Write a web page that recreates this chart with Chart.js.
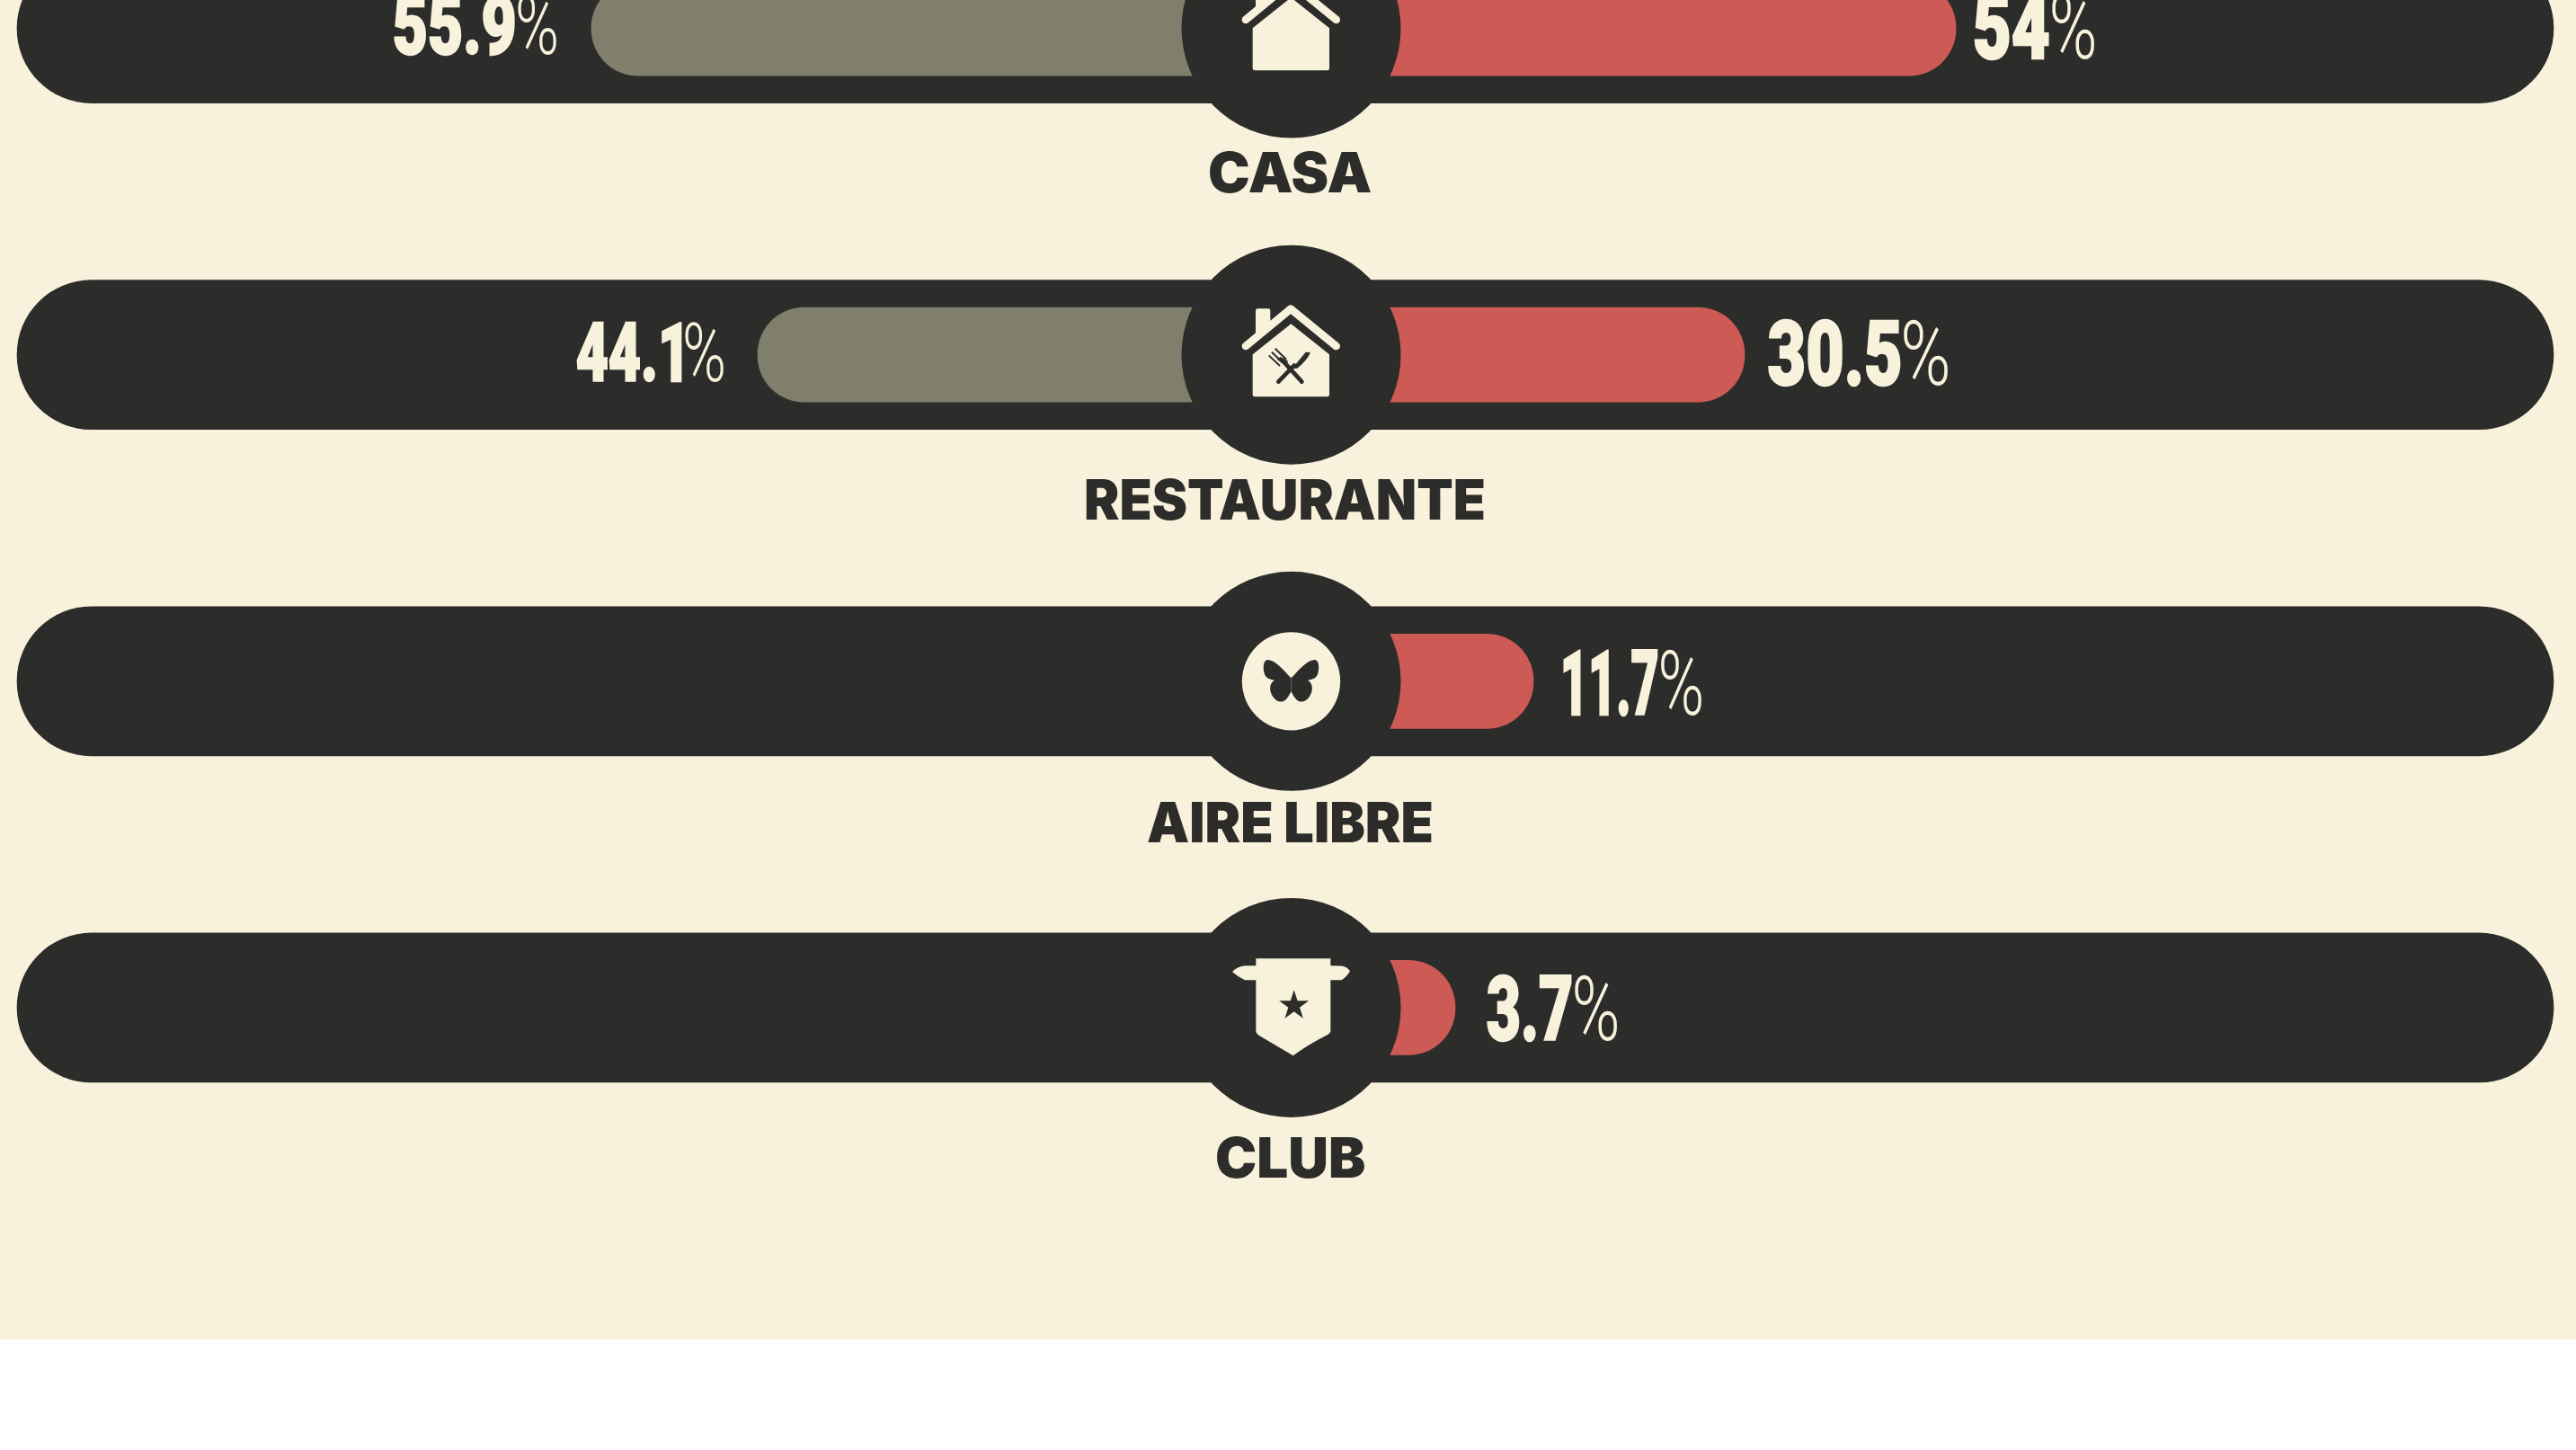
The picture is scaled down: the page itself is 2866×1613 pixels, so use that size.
<!DOCTYPE html>
<html lang="es"><head><meta charset="utf-8">
<style>
html,body{margin:0;padding:0;background:#fff;overflow:hidden}
#page{position:absolute;left:0;top:0;width:2866px;height:1490px;background:#F8F2DC;overflow:hidden}
#wrap{position:absolute;left:0;top:-150px;width:2866px;height:1640px}
</style>
<script src="https://cdn.jsdelivr.net/npm/chart.js@4"></script>
</head><body>
<div id="page"><div id="wrap"><canvas id="c" width="2866" height="1640"></canvas></div></div>
<script>
// Categories and printed percentages, as shown in the picture
const categories = ['CASA','RESTAURANTE','AIRE LIBRE','CLUB'];
const leftLabels  = ['55.9','44.1',null,null];
const rightLabels = ['54','30.5','11.7','3.7'];
// Bar extents read off the picture on the x axis. The drawn lengths in the
// original are not strictly proportional to the printed percentages.
const leftExtent  = [-77.85,-59.35,null,null];
const rightExtent = [73.95,50.45,26.95,18.25];
const trackStart = -141.75;
const trackEnd = 140.45;
const hubPosition = 0;

const CREAM='#F8F2DC', DARK='#2C2C2A', OLIVE='#807F6C', RED='#CD5A55';

const icons = {
  house(ctx,fork){
    ctx.fillStyle=CREAM; ctx.strokeStyle=CREAM; ctx.lineCap='round'; ctx.lineJoin='round';
    ctx.beginPath();ctx.moveTo(281,404);ctx.lineTo(409,302);ctx.lineTo(537,404);ctx.lineTo(537,538);ctx.quadraticCurveTo(537,545,530,545);ctx.lineTo(288,545);ctx.quadraticCurveTo(281,545,281,538);ctx.closePath();ctx.fill();
    ctx.beginPath();ctx.moveTo(291,335);ctx.lineTo(291,258);ctx.quadraticCurveTo(291,251,298,251);ctx.lineTo(333,251);ctx.quadraticCurveTo(340,251,340,258);ctx.lineTo(340,300);ctx.closePath();ctx.fill();
    ctx.lineWidth=26;ctx.beginPath();ctx.moveTo(258,376);ctx.lineTo(408,252);ctx.lineTo(560,376);ctx.stroke();
    if(!fork)return;
    ctx.strokeStyle=DARK;ctx.fillStyle=DARK;
    ctx.lineWidth=14;ctx.beginPath();ctx.moveTo(367,495);ctx.lineTo(420,440);ctx.stroke();
    ctx.beginPath();ctx.moveTo(412,452);ctx.lineTo(458,396);ctx.lineTo(474,397);ctx.quadraticCurveTo(462,425,430,450);ctx.closePath();ctx.fill();
    ctx.beginPath();ctx.moveTo(445,495);ctx.lineTo(388,432);ctx.stroke();
    ctx.lineWidth=6;ctx.lineCap='butt';
    [[335,407,372,442],[345,396,382,432],[356,384,393,420]].forEach(a=>{ctx.beginPath();ctx.moveTo(a[0],a[1]);ctx.lineTo(a[2],a[3]);ctx.stroke();});
    ctx.beginPath();ctx.moveTo(362,420);ctx.lineTo(374,412);ctx.lineTo(398,425);ctx.lineTo(396,445);ctx.closePath();ctx.fill();
  },
  butterfly(ctx){
    ctx.fillStyle=CREAM;ctx.beginPath();ctx.arc(409.5,405,164,0,Math.PI*2);ctx.fill();
    ctx.fillStyle=DARK;
    [1,-1].forEach(s=>{
      ctx.save();ctx.translate(409.5,405);ctx.scale(s,1);
      ctx.beginPath();ctx.moveTo(0,-11);ctx.bezierCurveTo(22,-32,48,-68,75,-71);ctx.bezierCurveTo(95,-75,95,-40,88,-22);ctx.bezierCurveTo(82,-8,68,-6,55,-3);ctx.bezierCurveTo(72,5,75,30,62,50);ctx.bezierCurveTo(50,70,28,75,15,58);ctx.bezierCurveTo(8,50,5,42,0,34);ctx.closePath();ctx.fill();
      ctx.restore();
    });
  },
  toque(ctx){
    ctx.translate(0,-18);
    ctx.fillStyle=CREAM;
    ctx.beginPath();ctx.moveTo(292,259);ctx.lineTo(541,259);ctx.lineTo(541,283);ctx.lineTo(578,284);ctx.quadraticCurveTo(598,288,606,301);ctx.quadraticCurveTo(597,318,578,331);ctx.lineTo(541,331);ctx.lineTo(541,503);ctx.quadraticCurveTo(538,510,530,514);ctx.quadraticCurveTo(465,547,416,583);ctx.lineTo(303,516);ctx.quadraticCurveTo(293,510,292,503);ctx.lineTo(292,331);ctx.lineTo(255,331);ctx.quadraticCurveTo(234,322,213,303);ctx.quadraticCurveTo(228,286,255,283);ctx.lineTo(292,283);ctx.closePath();ctx.fill();
    ctx.fillStyle=DARK;ctx.beginPath();
    for(let i=0;i<10;i++){const r=i%2?20:52,a=-Math.PI/2+i*Math.PI/5;const x=419+r*Math.cos(a),y=416+r*Math.sin(a);i?ctx.lineTo(x,y):ctx.moveTo(x,y);}
    ctx.closePath();ctx.fill();
  }
};

const labelStyle = {left:[1346,1208,1277,1354],width:[179,443,316,164],baseline:[182,183,179,189]};
const valueStyle = {
  left:{gap:[39,38],dy:[-3.5,-2.5],digits:[133,116],pct:[43,43],size:91},
  right:{gap:[21,27,34,36],dy:[-2,-3,1,0],digits:[82,146,104,93],pct:[47,49,45,47],size:101}
};

// Draw text so that its ink spans exactly `w` pixels from `x`; `fat` thickens the strokes.
function fitText(ctx,txt,x,base,w,fat){
  const m=ctx.measureText(txt);
  const ink=m.actualBoundingBoxLeft+m.actualBoundingBoxRight;
  const k=w/ink;
  ctx.save();ctx.translate(x,base);ctx.scale(k,1);ctx.textAlign='left';
  ctx.fillText(txt,m.actualBoundingBoxLeft,0);
  if(fat){ctx.strokeStyle=ctx.fillStyle;ctx.lineWidth=fat;ctx.lineJoin='miter';ctx.strokeText(txt,m.actualBoundingBoxLeft,0);}
  ctx.restore();
}

const decor = {
  id:'decor',
  afterDatasetsDraw(chart){
    const {ctx,scales:{x,y}}=chart;
    const cx=x.getPixelForValue(hubPosition);
    categories.forEach((cat,i)=>{
      const cy=y.getPixelForValue(i);
      ctx.save();ctx.translate(cx,cy);ctx.scale(1/3,1/3);ctx.translate(-409.5,-405);
      if(i===0)icons.house(ctx,false);
      if(i===1)icons.house(ctx,true);
      if(i===2)icons.butterfly(ctx);
      if(i===3)icons.toque(ctx);
      ctx.restore();
      // category label
      ctx.save();
      ctx.font='900 62px Inter';ctx.fillStyle=DARK;ctx.textBaseline='alphabetic';
      fitText(ctx,cat,labelStyle.left[i],cy+labelStyle.baseline[i],labelStyle.width[i]);
      ctx.restore();
      // value labels
      const L=valueStyle.left,R=valueStyle.right;
      if(leftLabels[i])drawValue(ctx,leftLabels[i],x.getPixelForValue(leftExtent[i])-L.gap[i],cy+L.dy[i],'left',L.digits[i],L.pct[i],L.size);
      drawValue(ctx,rightLabels[i],x.getPixelForValue(rightExtent[i])+R.gap[i],cy+R.dy[i],'right',R.digits[i],R.pct[i],R.size);
    });
  }
};
function drawValue(ctx,txt,px,cy,side,digitW,pctW,size){
  ctx.save();ctx.fillStyle=CREAM;ctx.textBaseline='alphabetic';
  const total=digitW+4+pctW;
  const left=side==='left'?px-total:px;
  const base=cy+size*0.355;
  ctx.font=`900 ${size}px Roboto`;
  fitText(ctx,txt,left,base,digitW,2.5);
  ctx.font=`300 ${size}px Roboto`;
  fitText(ctx,'%',left+digitW+4,base,pctW);
  ctx.restore();
}

new Chart(document.getElementById('c'),{
  type:'bar',
  data:{labels:categories,datasets:[
    {type:'bubble',label:'hub',data:categories.map(c=>({x:hubPosition,y:c})),radius:122,backgroundColor:DARK,borderWidth:0,order:1,clip:false,xAxisID:'x',yAxisID:'y'},
    {indexAxis:'y',label:'izquierda',data:leftExtent.map(v=>v===null?null:[v,0]),backgroundColor:OLIVE,borderRadius:52,borderSkipped:false,barThickness:105,grouped:false,order:2,xAxisID:'x',yAxisID:'y'},
    {indexAxis:'y',label:'derecha',data:rightExtent.map(v=>[0,v]),backgroundColor:RED,borderRadius:52,borderSkipped:false,barThickness:105,grouped:false,order:2,xAxisID:'x',yAxisID:'y'},
    {indexAxis:'y',label:'pista',data:categories.map(()=>[trackStart,trackEnd]),backgroundColor:DARK,borderRadius:83,borderSkipped:false,barThickness:166,grouped:false,order:3,xAxisID:'x',yAxisID:'y'}
  ]},
  options:{
    responsive:false,animation:false,
    layout:{autoPadding:false,padding:{left:0,right:0,top:0,bottom:187.5}},
    plugins:{legend:{display:false},tooltip:{enabled:false}},
    scales:{
      x:{type:'linear',min:-143.65,max:142.95,offset:false,display:false},
      y:{type:'category',labels:categories,display:false,offset:true,grid:{display:false}}
    }
  },
  plugins:[decor]
});
</script>
</body></html>
